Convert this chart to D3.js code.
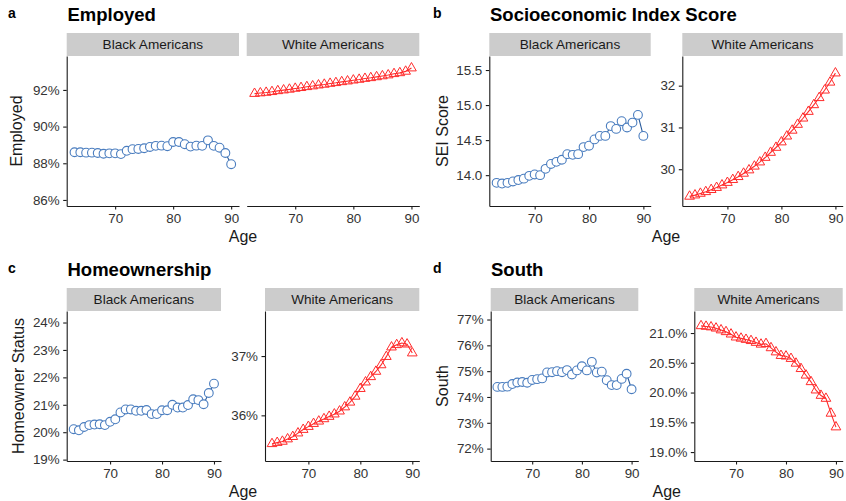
<!DOCTYPE html>
<html>
<head>
<meta charset="utf-8">
<script src="https://cdn.jsdelivr.net/npm/d3@7"></script>
<style>
  body { margin: 0; background: #fff; }
  svg { display: block; }
  text { font-family: "Liberation Sans", Arial, Helvetica, sans-serif; }
</style>
</head>
<body>
<svg id="chart" width="846" height="501"></svg>
<script>
// ---- data -------------------------------------------------------------
const ages = [63, 64, 65, 66, 67, 68, 69, 70, 71, 72, 73, 74, 75, 76,
              77, 78, 79, 80, 81, 82, 83, 84, 85, 86, 87, 88, 89, 90];

const employedBlack = [88.60, 88.60, 88.58, 88.58, 88.56, 88.52, 88.54, 88.54, 88.50, 88.68,
                       88.77, 88.78, 88.82, 88.89, 88.95, 88.96, 88.93, 89.16, 89.16, 89.04,
                       88.91, 88.96, 88.95, 89.25, 88.95, 88.85, 88.56, 87.95];
const employedWhite = [91.80, 91.83, 91.86, 91.90, 91.95, 91.99, 92.03, 92.08, 92.12, 92.17,
                       92.21, 92.26, 92.30, 92.35, 92.39, 92.44, 92.48, 92.53, 92.57, 92.62,
                       92.66, 92.71, 92.76, 92.81, 92.88, 92.93, 93.01, 93.19];

const seiBlack = [13.89, 13.88, 13.89, 13.91, 13.93, 13.95, 13.99, 14.01, 14.00, 14.09,
                  14.16, 14.19, 14.22, 14.30, 14.29, 14.30, 14.40, 14.42, 14.51, 14.56,
                  14.56, 14.70, 14.66, 14.77, 14.68, 14.75, 14.86, 14.56];
const seiWhite = [29.35, 29.38, 29.42, 29.46, 29.51, 29.56, 29.62, 29.68, 29.75, 29.82,
                  29.90, 29.98, 30.07, 30.17, 30.28, 30.40, 30.52, 30.65, 30.79, 30.93,
                  31.07, 31.22, 31.38, 31.54, 31.71, 31.89, 32.08, 32.30];

const homeBlack = [20.11, 20.07, 20.19, 20.26, 20.28, 20.29, 20.26, 20.38, 20.47, 20.72,
                   20.83, 20.83, 20.78, 20.78, 20.81, 20.66, 20.66, 20.80, 20.80, 21.00,
                   20.90, 20.90, 20.99, 21.20, 21.17, 21.02, 21.43, 21.77];
const homeWhite = [35.52, 35.54, 35.56, 35.60, 35.64, 35.70, 35.76, 35.81, 35.86, 35.90,
                   35.94, 35.98, 36.02, 36.07, 36.14, 36.22, 36.32, 36.45, 36.56, 36.65,
                   36.74, 36.85, 36.99, 37.15, 37.19, 37.22, 37.20, 37.05];

const southBlack = [74.39, 74.39, 74.40, 74.50, 74.56, 74.58, 74.55, 74.66, 74.69, 74.72,
                    74.95, 74.96, 75.00, 74.96, 75.04, 74.87, 75.03, 75.19, 75.03, 75.36,
                    74.95, 74.98, 74.65, 74.46, 74.46, 74.70, 74.90, 74.30];
const southWhite = [21.12, 21.11, 21.10, 21.08, 21.05, 21.02, 20.98, 20.93, 20.91, 20.89,
                    20.87, 20.84, 20.81, 20.82, 20.75, 20.68, 20.62, 20.61, 20.57, 20.49,
                    20.40, 20.29, 20.18, 20.04, 19.95, 19.90, 19.65, 19.42];

const ageTicks = [70, 80, 90];
const employedTicks = [86, 88, 90, 92];
const seiBlackTicks = [14.0, 14.5, 15.0, 15.5];
const seiWhiteTicks = [30, 31, 32];
const homeBlackTicks = [19, 20, 21, 22, 23, 24];
const homeWhiteTicks = [36, 37];
const southBlackTicks = [72, 73, 74, 75, 76, 77];
const southWhiteTicks = [19.0, 19.5, 20.0, 20.5, 21.0];

const groups = ["Black Americans", "White Americans"];

// ---- styling ----------------------------------------------------------
const AXIS = "#1a1a1a";
const TICK_TEXT = "#333333";
const STRIP_FILL = "#cccccc";
const BLUE_PT = "#4a7dbf";
const BLUE_LINE = "#2b5c9c";
const RED = "#ff2b2b";

const pct0 = d => d3.format("d")(d) + "%";
const pct1 = d => d3.format(".1f")(d) + "%";

// ---- layout of the four plots ----------------------------------------
const panels = [
  { letter: "a", title: "Employed", yTitle: "Employed", oy: 0,
    letterX: 8, titleX: 67.5, yTitleX: 21.5,
    facets: [
      { x0: 66.7, x1: 239, data: employedBlack, yDomain: [85.67, 93.85], ticks: employedTicks, fmt: pct0, showY: true },
      { x0: 246.7, x1: 419.3, data: employedWhite, yDomain: [85.67, 93.85], ticks: employedTicks, fmt: pct0, showY: false }
    ] },
  { letter: "b", title: "Socioeconomic Index Score", yTitle: "SEI Score", oy: 0,
    letterX: 433, titleX: 490, yTitleX: 447.5,
    facets: [
      { x0: 489.3, x1: 650.7, data: seiBlack, yDomain: [13.56, 15.70], ticks: seiBlackTicks, fmt: d3.format(".1f"), showY: true },
      { x0: 682.3, x1: 842.7, data: seiWhite, yDomain: [29.12, 32.71], ticks: seiWhiteTicks, fmt: d3.format("d"), showY: true }
    ] },
  { letter: "c", title: "Homeownership", yTitle: "Homeowner Status", oy: 255,
    letterX: 8, titleX: 67.5, yTitleX: 24,
    facets: [
      { x0: 66.7, x1: 221, data: homeBlack, yDomain: [18.95, 24.42], ticks: homeBlackTicks, fmt: pct0, showY: true },
      { x0: 265, x1: 419.3, data: homeWhite, yDomain: [35.23, 37.76], ticks: homeWhiteTicks, fmt: pct0, showY: true }
    ] },
  { letter: "d", title: "South", yTitle: "South", oy: 255,
    letterX: 433, titleX: 491, yTitleX: 447.5,
    facets: [
      { x0: 490.7, x1: 638.3, data: southBlack, yDomain: [71.52, 77.33], ticks: southBlackTicks, fmt: pct0, showY: true },
      { x0: 694.3, x1: 842.7, data: southWhite, yDomain: [18.85, 21.37], ticks: southWhiteTicks, fmt: pct1, showY: true }
    ] }
];

const svg = d3.select("#chart");

// upward open triangle centred on (x, y)
function trianglePath(x, y) {
  const r = 5.6, hw = r * Math.sqrt(3) / 2;
  return `M${x},${y - r}L${x + hw},${y + r / 2}L${x - hw},${y + r / 2}Z`;
}

panels.forEach(p => {
  const g = svg.append("g");
  const stripTop = p.oy + 33, stripBottom = p.oy + 56;
  const plotTop = stripBottom, plotBottom = p.oy + 206;

  g.append("text").attr("x", p.letterX).attr("y", p.oy + 17.5)
    .attr("font-size", 14).attr("font-weight", "bold").text(p.letter);
  g.append("text").attr("x", p.titleX).attr("y", p.oy + 21)
    .attr("font-size", 18.5).attr("font-weight", "bold").attr("fill", "#000").text(p.title);

  g.append("text")
    .attr("transform", `translate(${p.yTitleX},${(plotTop + plotBottom) / 2}) rotate(-90)`)
    .attr("text-anchor", "middle").attr("font-size", 16).attr("fill", "#1a1a1a").text(p.yTitle);

  const xMid = (p.facets[0].x0 + p.facets[1].x1) / 2;
  g.append("text").attr("x", xMid).attr("y", p.oy + 242)
    .attr("text-anchor", "middle").attr("font-size", 16).attr("fill", "#1a1a1a").text("Age");

  p.facets.forEach((f, i) => {
    const black = i === 0;
    const x = d3.scaleLinear().domain([61.65, 91.35]).range([f.x0, f.x1]);
    const y = d3.scaleLinear().domain(f.yDomain).range([plotBottom, plotTop]);

    // facet strip
    g.append("rect").attr("x", f.x0).attr("y", stripTop)
      .attr("width", f.x1 - f.x0).attr("height", stripBottom - stripTop)
      .attr("fill", STRIP_FILL);
    g.append("text").attr("x", (f.x0 + f.x1) / 2).attr("y", (stripTop + stripBottom) / 2 + 4.8)
      .attr("text-anchor", "middle").attr("font-size", 13.6).attr("fill", "#1a1a1a")
      .text(groups[i]);

    // x axis
    const xAxis = g.append("g").attr("transform", `translate(0,${plotBottom})`)
      .call(d3.axisBottom(x).tickValues(ageTicks).tickSize(3.5).tickPadding(4).tickSizeOuter(0));
    xAxis.select(".domain").attr("stroke", AXIS).attr("stroke-width", 1.1);
    xAxis.selectAll(".tick line").attr("stroke", AXIS).attr("stroke-width", 1.1);
    xAxis.selectAll(".tick text").attr("font-size", 13.4).attr("fill", TICK_TEXT)
      .attr("font-family", null);

    // y axis
    if (f.showY) {
      const yAxis = g.append("g").attr("transform", `translate(${f.x0},0)`)
        .call(d3.axisLeft(y).tickValues(f.ticks).tickFormat(f.fmt)
          .tickSize(3.5).tickPadding(3.5).tickSizeOuter(0));
      yAxis.select(".domain").attr("stroke", AXIS).attr("stroke-width", 1.1);
      yAxis.selectAll(".tick line").attr("stroke", AXIS).attr("stroke-width", 1.1);
      yAxis.selectAll(".tick text").attr("font-size", 13.4).attr("fill", TICK_TEXT)
        .attr("font-family", null);
    }

    const pts = ages.map((a, k) => [a, f.data[k]]);
    const line = d3.line().x(d => x(d[0])).y(d => y(d[1]));

    g.append("path").datum(pts).attr("d", line).attr("fill", "none")
      .attr("stroke", black ? BLUE_LINE : RED).attr("stroke-width", 1.1);

    if (black) {
      g.selectAll(null).data(pts).enter().append("circle")
        .attr("cx", d => x(d[0])).attr("cy", d => y(d[1])).attr("r", 4.4)
        .attr("fill", "#fff").attr("stroke", BLUE_PT).attr("stroke-width", 1.1);
    } else {
      g.selectAll(null).data(pts).enter().append("path")
        .attr("d", d => trianglePath(x(d[0]), y(d[1])))
        .attr("fill", "none").attr("stroke", RED).attr("stroke-width", 1.0)
        .attr("stroke-linejoin", "miter");
    }
  });
});
</script>
</body>
</html>
